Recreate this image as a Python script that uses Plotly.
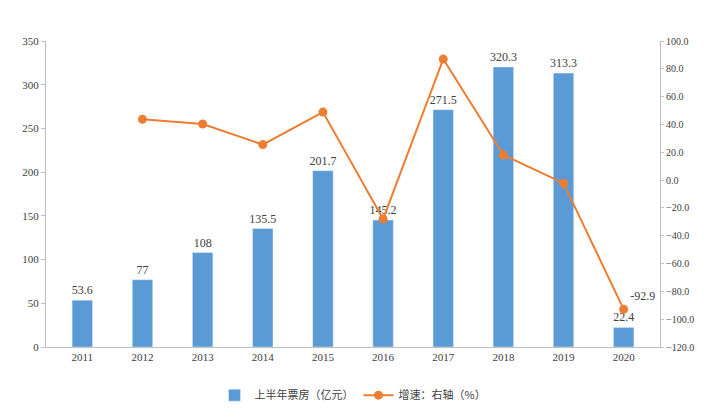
import plotly.graph_objects as go

years = ["2011","2012","2013","2014","2015","2016","2017","2018","2019","2020"]
box = [53.6, 77, 108, 135.5, 201.7, 145.2, 271.5, 320.3, 313.3, 22.4]
box_labels = ["53.6","77","108","135.5","201.7","145.2","271.5","320.3","313.3","22.4"]
growth = [None, 43.7, 40.3, 25.5, 48.9, -28.0, 87.0, 18.0, -2.2, -92.9]
growth_labels = ["", "", "", "", "", "", "", "", "", "-92.9"]

fig = go.Figure()
fig.add_trace(go.Bar(x=years, y=box, name="上半年票房（亿元）", marker_color="#5B9BD5",
                     width=0.34, text=box_labels, textposition="outside",
                     constraintext="none",
                     textfont=dict(size=12, color="#404040", family="Liberation Serif"),
                     cliponaxis=False))
fig.add_trace(go.Scatter(x=years, y=growth, name="增速：右轴（%）", yaxis="y2",
                         mode="lines+markers+text", line=dict(color="#ED7D31", width=2),
                         marker=dict(size=9, color="#ED7D31"),
                         text=growth_labels, textposition="top right",
                         textfont=dict(size=12, color="#404040", family="Liberation Serif"),
                         connectgaps=False, cliponaxis=False))
fig.update_layout(
    width=704, height=414, paper_bgcolor="white", plot_bgcolor="white",
    margin=dict(l=38, r=52, t=33, b=68),
    font=dict(family="Liberation Serif", size=11, color="#404040"),
    uniformtext=dict(minsize=12, mode="show"),
    xaxis=dict(showline=True, linecolor="#BFBFBF", ticks="", tickfont=dict(size=11)),
    yaxis=dict(range=[0, 350], dtick=50, showgrid=False, showline=True, linecolor="#BFBFBF",
               ticks="outside", ticklen=4, tickcolor="#BFBFBF", zeroline=False),
    yaxis2=dict(range=[-120, 100], dtick=20, overlaying="y", side="right", showgrid=False,
                showline=True, linecolor="#BFBFBF", ticks="outside", ticklen=3,
                tickcolor="#BFBFBF", tickformat=".1f", zeroline=False,
                tickfont=dict(size=10)),
    legend=dict(orientation="h", x=0.5, xanchor="center", y=-0.11, yanchor="top",
                font=dict(family="Noto Sans CJK SC", size=11)),
    showlegend=True,
)
fig.write_html("out.html")
